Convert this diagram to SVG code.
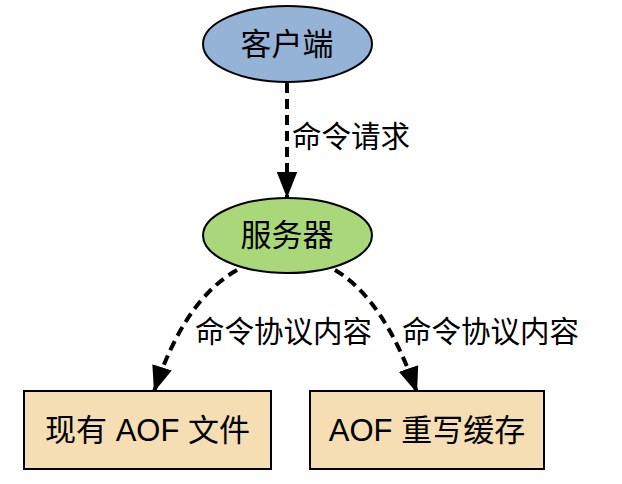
<svg xmlns="http://www.w3.org/2000/svg" width="622" height="484" viewBox="0 0 622 484">
<style>
.n{stroke:#000;stroke-width:2}
.t{font-family:"Liberation Sans","Noto Sans CJK SC",sans-serif;fill:#000;text-anchor:middle}
.e{fill:none;stroke:#000;stroke-width:4;stroke-dasharray:10,6}
.l{font-family:"Noto Sans CJK SC",sans-serif;font-size:29.5px;fill:#000}
</style>
<defs>
<marker id="a" viewBox="0 0 14 11" refX="14" refY="5.5" markerWidth="6.5" markerHeight="5.1" orient="auto" markerUnits="strokeWidth">
<path d="M0,0 L14,5.5 L0,11 z" fill="#000"/>
</marker>
</defs>
<rect width="622" height="484" fill="#fff"/>
<g id="edges">
<path class="e" d="M287,83 L287,198" marker-end="url(#a)"/>
<path class="e" d="M237,270 Q184,300 154,392" marker-end="url(#a)"/>
<path class="e" d="M335,270 Q385,300 417,393" marker-end="url(#a)"/>
<text class="l" x="292" y="147">命令请求</text>
<text class="l" x="195" y="342">命令协议内容</text>
<text class="l" x="402" y="342">命令协议内容</text>
</g>
<g id="client">
<ellipse class="n" cx="287.5" cy="44" rx="84.5" ry="38" fill="#95b3d7"/>
<text class="t" x="287" y="55" font-size="31">客户端</text>
</g>
<g id="server">
<ellipse class="n" cx="287.5" cy="235.5" rx="84.5" ry="37.5" fill="#a9d77a"/>
<text class="t" x="287" y="246" font-size="31">服务器</text>
</g>
<g id="aof-file">
<rect class="n" x="24" y="391" width="247" height="78" fill="#f5deb3"/>
<text class="t" x="147.5" y="441" font-size="31">现有 AOF 文件</text>
</g>
<g id="aof-rewrite">
<rect class="n" x="310" y="391" width="234" height="78" fill="#f5deb3"/>
<text class="t" x="427" y="441" font-size="31">AOF 重写缓存</text>
</g>
</svg>
